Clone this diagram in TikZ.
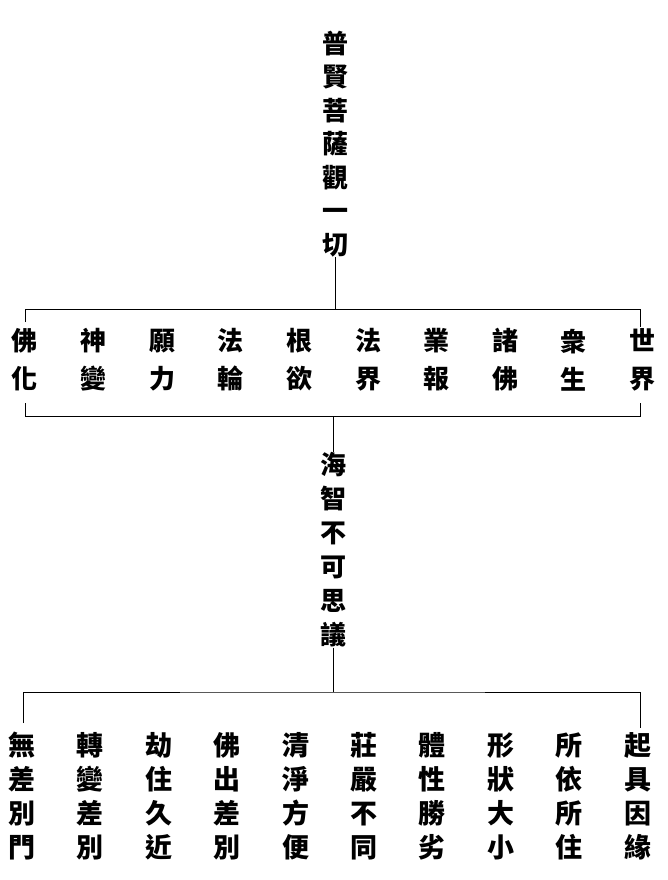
\documentclass[tikz,border=0pt]{standalone}
\usepackage{fontspec}
\newfontfamily\cjk{Noto Sans CJK TC}
\tikzset{
  zi/.style={font=\cjk\bfseries\fontsize{26}{33.5}\selectfont, align=center, inner sep=0pt},
  hang/.style={font=\cjk\bfseries\fontsize{26}{38}\selectfont, align=center, inner sep=0pt},
  men/.style={font=\cjk\bfseries\fontsize{27}{34}\selectfont, align=center, inner sep=0pt},
  rule/.style={line width=0.8pt}
}
\begin{document}
\begin{tikzpicture}[x=1pt,y=-1pt]
\useasboundingbox (0,0) rectangle (668,880);

% top title
\node[zi] (title) at (335,144) {普\\賢\\菩\\薩\\觀\\一\\切};
\coordinate (topjoin) at (335,309);
\draw[rule] (title.south) -- (topjoin);

% first bracket
\coordinate (tl) at (25,309);
\coordinate (tr) at (640,309);
\coordinate (bl) at (25,416);
\coordinate (br) at (640,416);
\draw[rule] (25,322) -- (tl) -- (tr) -- (640,327);
\draw[rule] (25,403) -- (bl) -- (br) -- (640,403);

\foreach \a/\b [count=\i from 0] in {佛/化, 神/變, 願/力, 法/輪, 根/欲, 法/界, 業/報, 諸/佛, 衆/生, 世/界}
	{
		\node[hang] (w\i) at ({25+68.6*\i},360) {\a\\\b};
	}

% middle
\node[zi, font=\cjk\bfseries\fontsize{26}{34}\selectfont] (mid) at (333,550) {海\\智\\不\\可\\思\\議};
\coordinate (midjoin) at (333,416);
\coordinate (lowjoin) at (333,692);
\draw[rule] (midjoin) -- (mid.north);
\draw[rule] (mid.south) -- (lowjoin);

% second bracket
\draw[rule] (23,723) -- (23,692) -- (lowjoin) -- (640,692) -- (640,728);

\foreach \a/\b/\c/\d [count=\i from 0] in {無/差/別/門, 轉/變/差/別, 劫/住/久/近, 佛/出/差/別, 清/淨/方/便, 莊/嚴/不/同, 體/性/勝/劣, 形/狀/大/小, 所/依/所/住, 起/具/因/緣}
	{
		\node[men] (b\i) at ({22+68.4*\i},796) {\a\\\b\\\c\\\d};
	}
\end{tikzpicture}
\end{document}
